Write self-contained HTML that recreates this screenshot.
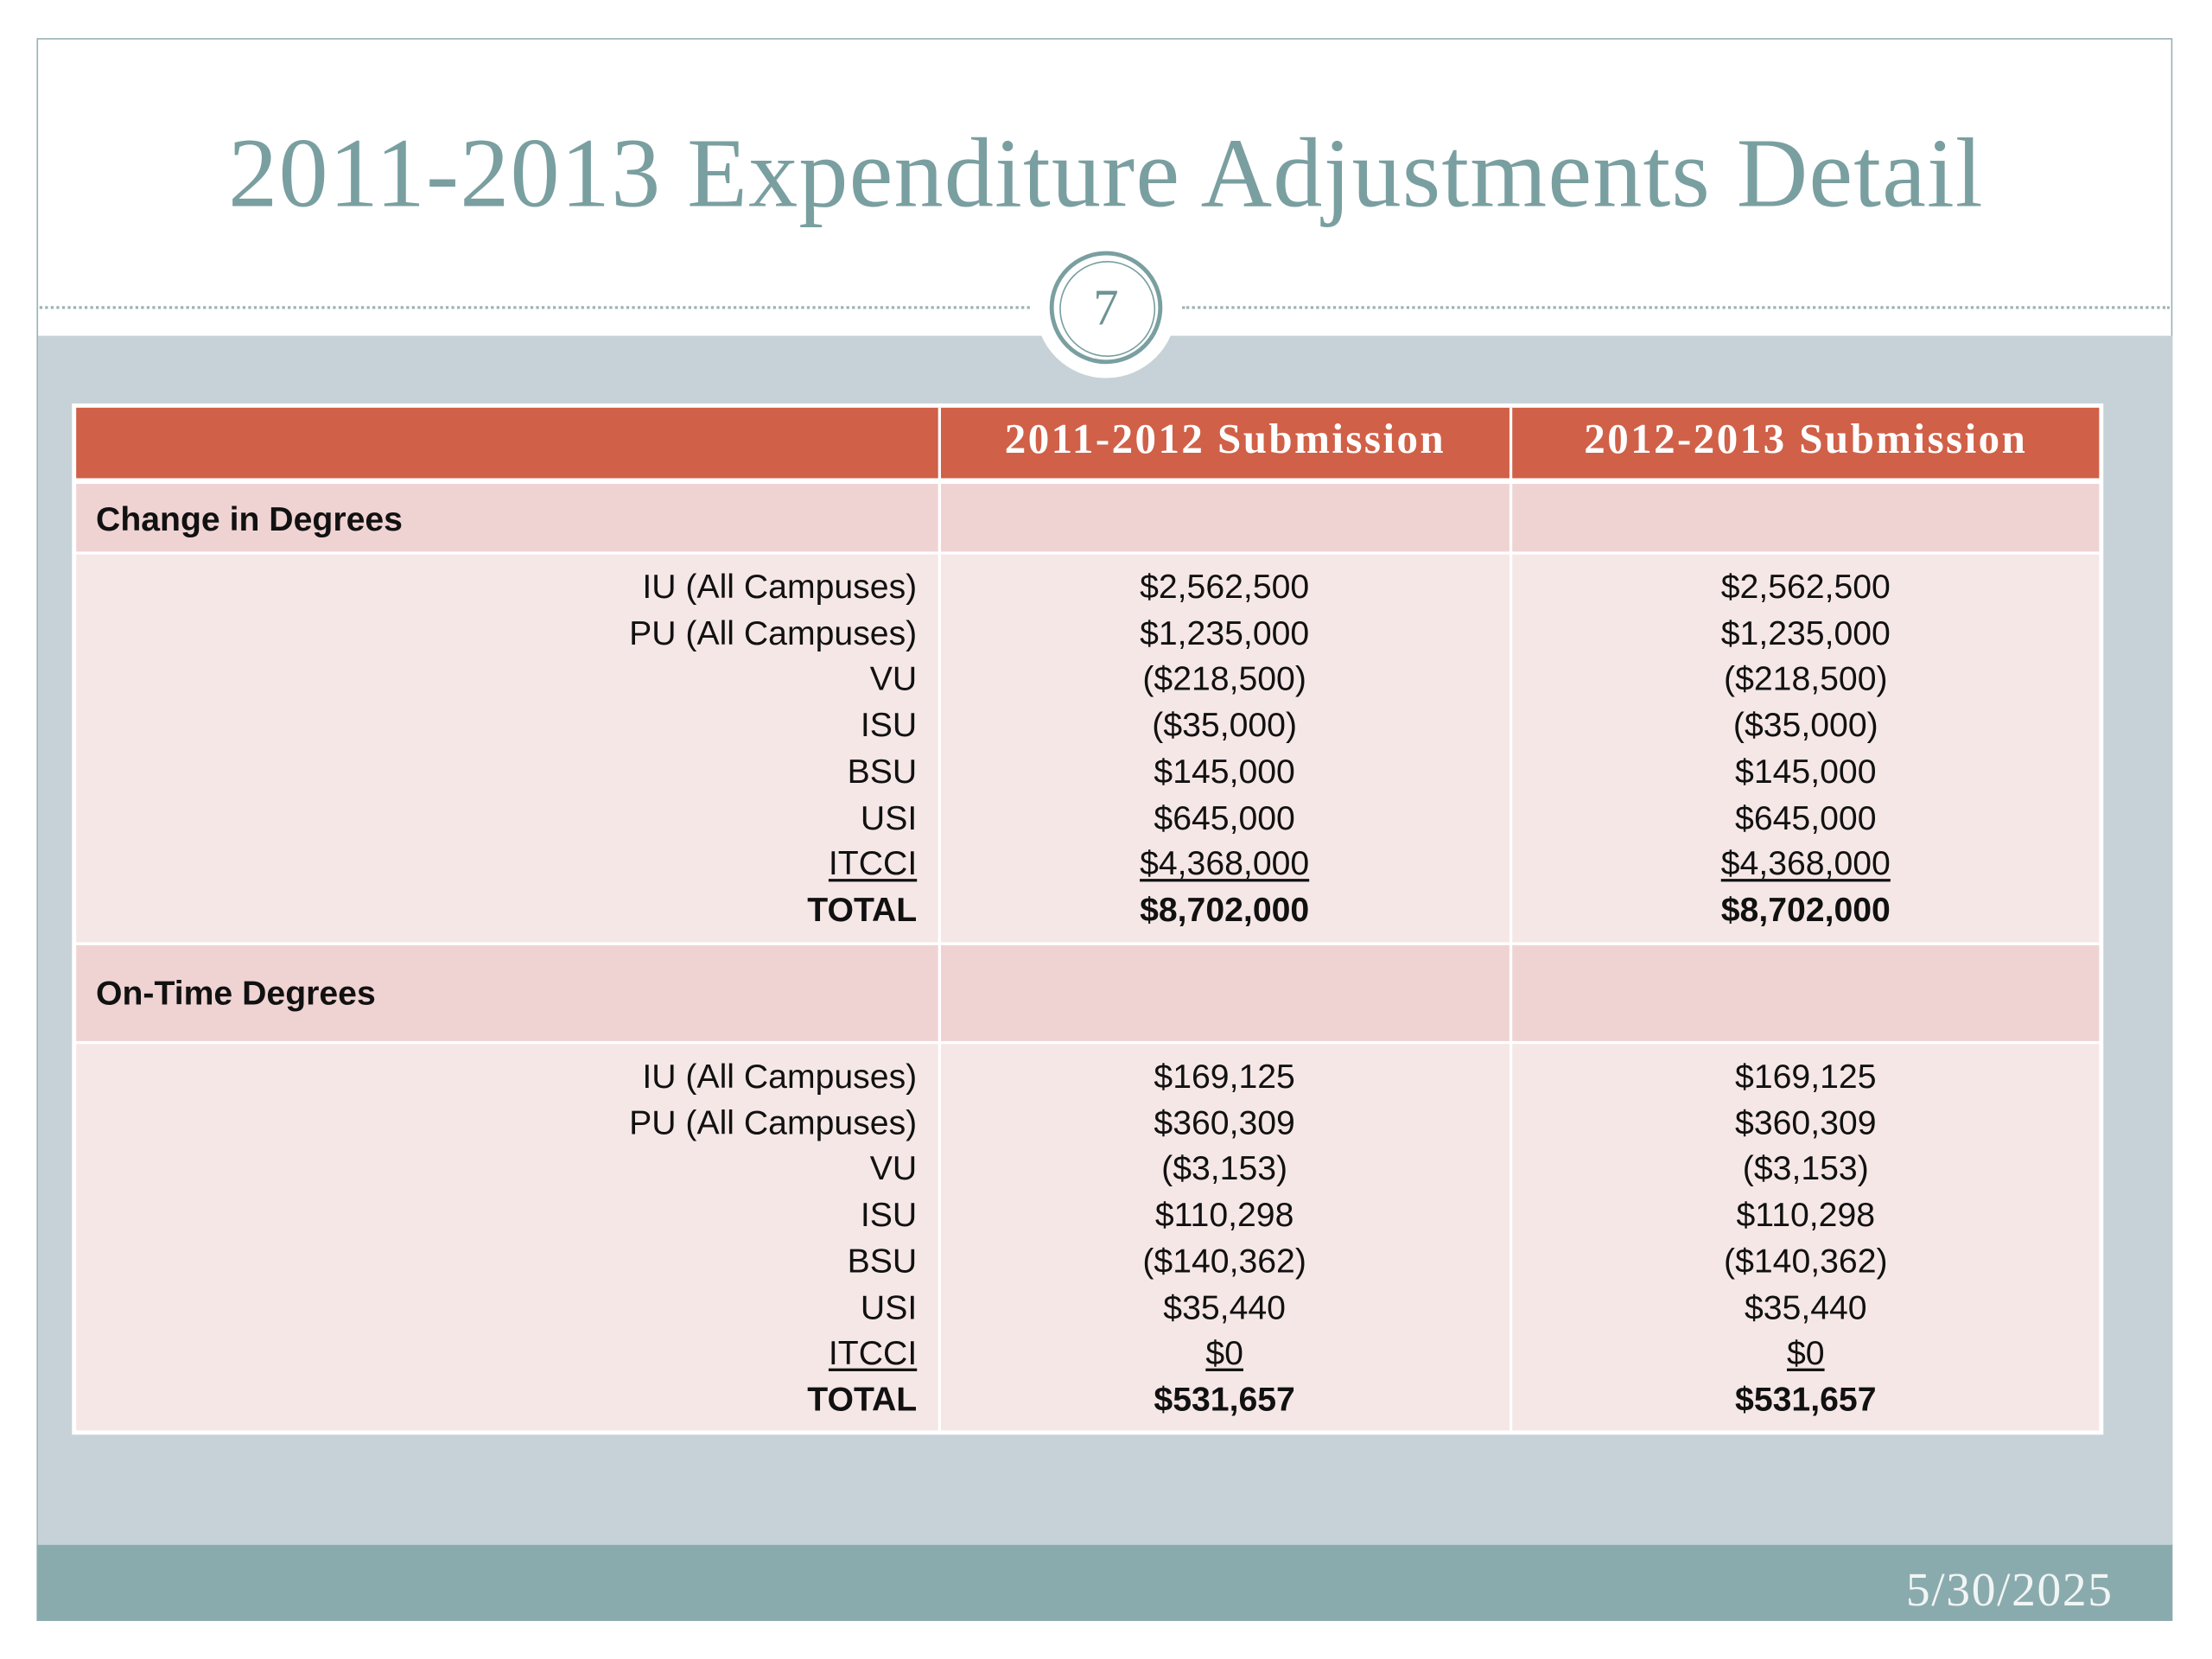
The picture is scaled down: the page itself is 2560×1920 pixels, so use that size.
<!DOCTYPE html>
<html><head><meta charset="utf-8">
<style>
html,body{margin:0;padding:0;width:2560px;height:1920px;overflow:hidden;background:#fff}
#s{position:absolute;left:0;top:0;width:1568px;height:1176px;transform:scale(1.632653);transform-origin:0 0;font-family:"Liberation Sans",sans-serif}
.a{position:absolute}
.t{position:absolute;font-size:24px;color:#111;line-height:28px;white-space:nowrap}
.r{text-align:right}
.c{text-align:center;width:300px}
.u{text-decoration:underline;text-underline-offset:3px}
.b{font-weight:bold}
</style></head><body>
<div id="s">
  <div class="a" style="left:26px;top:27px;width:1514px;height:1122px;border:1.5px solid #9bb3b4;box-sizing:border-box"></div>
  <div class="a" style="left:0;width:1568px;top:84px;text-align:center;font-family:'Liberation Serif',serif;font-size:70px;letter-spacing:0.7px;color:#7a9fa0;line-height:80px">2011-2013 Expenditure Adjustments Detail</div>
  <div class="a" style="left:27px;top:238px;width:1513px;height:857px;background:#c6d2d7"></div>
  <div class="a" style="left:28px;top:217px;width:702px;border-top:2px dotted #9bb3b4"></div>
  <div class="a" style="left:838px;top:217px;width:700px;border-top:2px dotted #9bb3b4"></div>
  <div class="a" style="left:734px;top:168px;width:100px;height:100px;border-radius:50%;background:#fff"></div>
  <div class="a" style="left:744px;top:178px;width:74px;height:74px;border-radius:50%;border:3px solid #7a9fa0;background:#fff"></div>
  <div class="a" style="left:751px;top:185px;width:66px;height:66px;border-radius:50%;border:1.5px solid #7a9fa0"></div>
  <div class="a" style="left:744px;top:196px;width:80px;text-align:center;font-family:'Liberation Serif',serif;font-size:36px;color:#6e9393;line-height:44px">7</div>
  <div class="a" style="left:26px;top:1095px;width:1514px;height:54px;background:#8aabad"></div>
  <div class="a" style="left:1300px;top:1108px;width:198px;text-align:right;font-family:'Liberation Serif',serif;font-size:34px;letter-spacing:1px;color:#f2f5f5;line-height:40px">5/30/2025</div>

  <div class="a" style="left:51px;top:286px;width:1440px;height:731px;background:#fff"></div>
  <div class="a" style="left:54px;top:289px;width:1434px;height:50px;background:#d06048"></div>
  <div class="a" style="left:54px;top:343px;width:1434px;height:48px;background:#efd3d2"></div>
  <div class="a" style="left:54px;top:393px;width:1434px;height:275px;background:#f6e7e7"></div>
  <div class="a" style="left:54px;top:670px;width:1434px;height:68px;background:#efd3d2"></div>
  <div class="a" style="left:54px;top:740px;width:1434px;height:274px;background:#f6e7e7"></div>
  <div class="a" style="left:665px;top:289px;width:2px;height:725px;background:#fff"></div>
  <div class="a" style="left:1070px;top:289px;width:2px;height:725px;background:#fff"></div>
  <div class="a" style="left:667px;top:295px;width:403px;text-align:center;font-family:'Liberation Serif',serif;font-weight:bold;font-size:30px;letter-spacing:1.5px;color:#fff;line-height:34px">2011-2012 Submission</div>
  <div class="a" style="left:1072px;top:295px;width:416px;text-align:center;font-family:'Liberation Serif',serif;font-weight:bold;font-size:30px;letter-spacing:1.5px;color:#fff;line-height:34px">2012-2013 Submission</div>
  <div class="t b" style="left:68px;top:355px">Change in Degrees</div>
  <div class="t b" style="left:68px;top:691px">On-Time Degrees</div>
  <div id="rows"></div>
</div>
<script>
const labels = ["IU (All Campuses)","PU (All Campuses)","VU","ISU","BSU","USI","ITCCI","TOTAL"];
const changeA = ["$2,562,500","$1,235,000","($218,500)","($35,000)","$145,000","$645,000","$4,368,000","$8,702,000"];
const changeB = ["$2,562,500","$1,235,000","($218,500)","($35,000)","$145,000","$645,000","$4,368,000","$8,702,000"];
const ontimeA = ["$169,125","$360,309","($3,153)","$110,298","($140,362)","$35,440","$0","$531,657"];
const ontimeB = ["$169,125","$360,309","($3,153)","$110,298","($140,362)","$35,440","$0","$531,657"];
const root = document.getElementById('rows');
function cell(txt, cls, left, top, i, name){
  const d = document.createElement('div');
  d.className = 't ' + cls + (i===6?' u':'') + (i===7?' b':'');
  d.style.left = left + 'px'; d.style.top = top + 'px';
  d.textContent = txt;
  
  
  root.appendChild(d);
}
function block(y0, a, b, key){
  labels.forEach((l,i)=>{
    const y = y0 + i*32.7;
    cell(l, 'r', 250, y, i, key+'-label');
    root.lastChild.style.width = '400px';
    cell(a[i], 'c', 718, y, i, key+'-2011-2012-value');
    cell(b[i], 'c', 1130, y, i, key+'-2012-2013-value');
  });
}
block(403, changeA, changeB, 'change');
block(750, ontimeA, ontimeB, 'ontime');
</script>
</body></html>
